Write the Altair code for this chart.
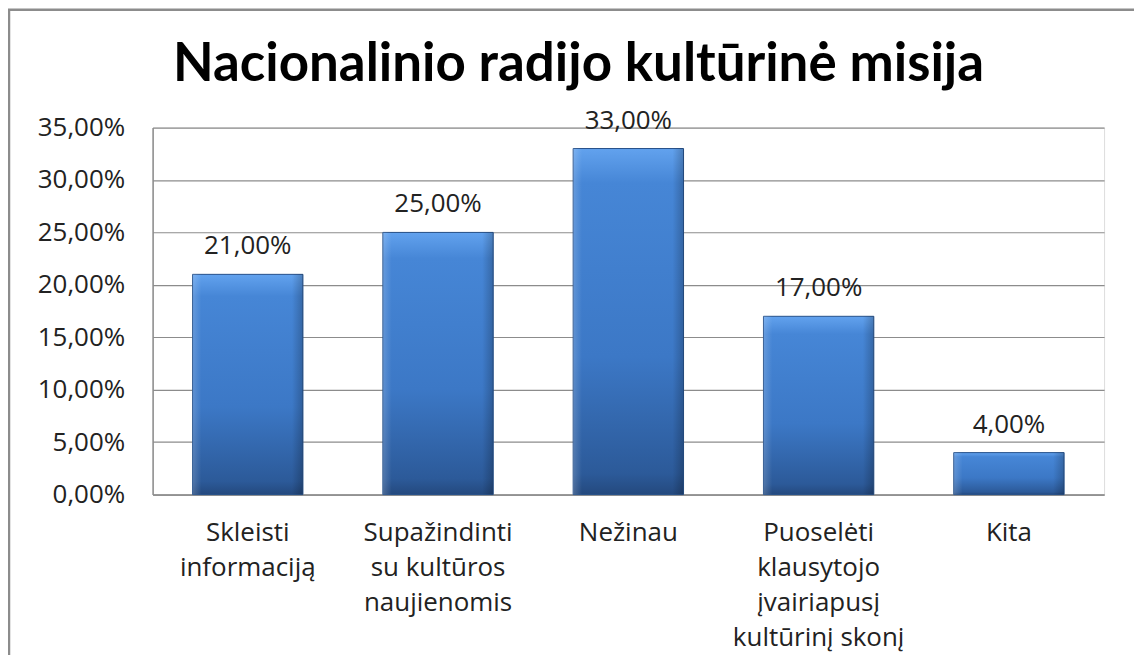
import altair as alt
import pandas as pd

categories = [
    "Skleisti\ninformaciją",
    "Supažindinti\nsu kultūros\nnaujienomis",
    "Nežinau",
    "Puoselėti\nklausytojo\nįvairiapusį\nkultūrinį skonį",
    "Kita",
]
values = [0.21, 0.25, 0.33, 0.17, 0.04]
y_ticks = [0, 0.05, 0.10, 0.15, 0.20, 0.25, 0.30, 0.35]
title_text = ["Nacionalinio radijo kultūrinė misija"]

FONT = "Open Sans"
TFONT = "Lato"
FS = 26
df = pd.DataFrame({"cat": categories, "val": values})

x = alt.X("cat:N", sort=categories, title=None,
          scale=alt.Scale(paddingInner=0.42, paddingOuter=0.21),
          axis=alt.Axis(labelAngle=0, labelExpr="split(datum.label, '\\n')",
                        labelLineHeight=35, labelFontSize=FS, labelFont=FONT,
                        labelColor="#222222", labelPadding=25, ticks=False,
                        domainColor="#8c8c8c", domainWidth=1.5, grid=False,
                        labelBaseline="top"))
y = alt.Y("val:Q", title=None,
          scale=alt.Scale(domain=[0, 0.35], nice=False),
          axis=alt.Axis(values=y_ticks, labelExpr="replace(format(datum.value, '.2%'), '.', ',')",
                        labelFontSize=FS, labelFont=FONT, labelColor="#222222",
                        labelPadding=28, ticks=False, domainColor="#8c8c8c",
                        domainWidth=1.5, gridColor="#8c8c8c", gridWidth=1.2))

gradient = alt.LinearGradient(
    gradient="linear", x1=0, x2=0, y1=0, y2=1,
    stops=[alt.GradientStop(color="#62a2ee", offset=0),
           alt.GradientStop(color="#4686d6", offset=0.1),
           alt.GradientStop(color="#3c78c6", offset=0.6),
           alt.GradientStop(color="#2c5a99", offset=0.94),
           alt.GradientStop(color="#24497e", offset=1)])

side_shade = alt.LinearGradient(
    gradient="linear", x1=0, x2=1, y1=0, y2=0,
    stops=[alt.GradientStop(color="rgba(255,255,255,0.18)", offset=0),
           alt.GradientStop(color="rgba(255,255,255,0)", offset=0.08),
           alt.GradientStop(color="rgba(0,0,0,0)", offset=0.9),
           alt.GradientStop(color="rgba(0,0,0,0.22)", offset=1)])

bars = alt.Chart(df).mark_bar(color=gradient, stroke="#26508a", strokeWidth=1).encode(x=x, y=y)
bevel = alt.Chart(df).mark_bar(color=side_shade).encode(x=x, y=y)

labels = alt.Chart(df).transform_calculate(
    lab="replace(format(datum.val, '.2%'), '.', ',')"
).mark_text(baseline="alphabetic", dy=-20, fontSize=FS, font=FONT, color="#222222").encode(
    x=alt.X("cat:N", sort=categories), y="val:Q", text="lab:N")

title = alt.Chart(pd.DataFrame({"t": title_text})).mark_text(
    font=TFONT, fontSize=53, fontWeight="bold", color="#000000",
    align="center", baseline="alphabetic"
).encode(x=alt.value(427), y=alt.value(-47), text="t:N")

frame = alt.Chart(pd.DataFrame({"a": [0]})).mark_rect(
    fill="transparent", stroke="#8c8c8c", strokeWidth=2.5
).encode(x=alt.value(-144), x2=alt.value(986), y=alt.value(-118), y2=alt.value(560))

chart = alt.layer(bars, bevel, labels, title, frame).properties(
    width=954, height=368,
    autosize=alt.AutoSizeParams(type="none"),
    padding={"left": 145, "top": 119, "right": 30, "bottom": 160},
).configure_view(stroke=None).configure(background="white")

chart.save("out.html", embed_options={"renderer": "svg", "actions": False})
